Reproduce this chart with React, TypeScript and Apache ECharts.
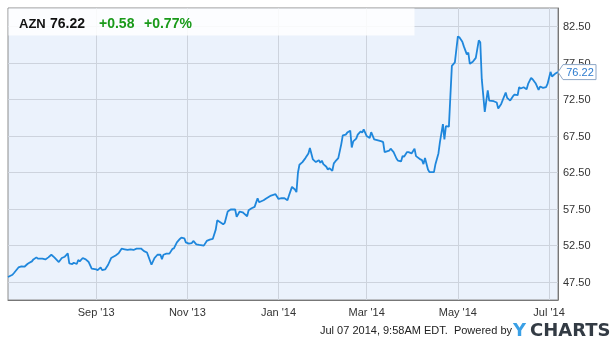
import React, { useEffect, useRef } from 'react';
import * as echarts from 'echarts';

const dates = [
  '2013-07-04','2013-07-07','2013-07-08','2013-07-11','2013-07-13','2013-07-15','2013-07-17','2013-07-18','2013-07-20','2013-07-21',
  '2013-07-23','2013-07-24','2013-07-27','2013-07-29','2013-07-31','2013-08-02','2013-08-04','2013-08-07','2013-08-09','2013-08-11',
  '2013-08-13','2013-08-14','2013-08-16','2013-08-17','2013-08-19','2013-08-20','2013-08-21','2013-08-23','2013-08-25','2013-08-27',
  '2013-08-29','2013-09-01','2013-09-02','2013-09-04','2013-09-05','2013-09-07','2013-09-09','2013-09-11','2013-09-14','2013-09-16',
  '2013-09-18','2013-09-20','2013-09-22','2013-09-24','2013-09-26','2013-09-28','2013-10-01','2013-10-03','2013-10-05','2013-10-08',
  '2013-10-10','2013-10-12','2013-10-14','2013-10-15','2013-10-16','2013-10-18','2013-10-20','2013-10-22','2013-10-23','2013-10-25',
  '2013-10-27','2013-10-28','2013-10-30','2013-10-31','2013-11-02','2013-11-04','2013-11-05','2013-11-07','2013-11-09','2013-11-12',
  '2013-11-14','2013-11-16','2013-11-18','2013-11-20','2013-11-21','2013-11-23','2013-11-25','2013-11-26','2013-11-28','2013-11-30',
  '2013-12-03','2013-12-04','2013-12-06','2013-12-08','2013-12-09','2013-12-11','2013-12-12','2013-12-14','2013-12-16','2013-12-18',
  '2013-12-19','2013-12-22','2013-12-24','2013-12-27','2013-12-30','2014-01-01','2014-01-03','2014-01-05','2014-01-07','2014-01-08',
  '2014-01-10','2014-01-12','2014-01-13','2014-01-14','2014-01-15','2014-01-17','2014-01-19','2014-01-21','2014-01-22','2014-01-24',
  '2014-01-26','2014-01-28','2014-01-29','2014-01-30','2014-01-31','2014-02-02','2014-02-03','2014-02-04','2014-02-06','2014-02-07',
  '2014-02-08','2014-02-10','2014-02-12','2014-02-13','2014-02-15','2014-02-16','2014-02-18','2014-02-19','2014-02-20','2014-02-22',
  '2014-02-23','2014-02-25','2014-02-26','2014-02-27','2014-03-01','2014-03-03','2014-03-04','2014-03-06','2014-03-08','2014-03-11',
  '2014-03-12','2014-03-13','2014-03-16','2014-03-17','2014-03-19','2014-03-21','2014-03-22','2014-03-24','2014-03-25','2014-03-26',
  '2014-03-28','2014-03-29','2014-03-31','2014-04-02','2014-04-03','2014-04-06','2014-04-07','2014-04-08','2014-04-09','2014-04-11',
  '2014-04-12','2014-04-15','2014-04-16','2014-04-18','2014-04-19','2014-04-21','2014-04-22','2014-04-23','2014-04-25','2014-04-26',
  '2014-04-27','2014-04-29','2014-05-01','2014-05-02','2014-05-04','2014-05-05','2014-05-07','2014-05-08','2014-05-09','2014-05-11',
  '2014-05-13','2014-05-15','2014-05-16','2014-05-17','2014-05-19','2014-05-21','2014-05-22','2014-05-25','2014-05-27','2014-05-28',
  '2014-05-30','2014-06-02','2014-06-03','2014-06-05','2014-06-07','2014-06-08','2014-06-10','2014-06-11','2014-06-12','2014-06-14',
  '2014-06-16','2014-06-17','2014-06-19','2014-06-20','2014-06-22','2014-06-24','2014-06-25','2014-06-27','2014-06-29','2014-06-30',
  '2014-07-02','2014-07-03','2014-07-05','2014-07-07'
];

const prices = [
  48.15,48.46,48.70,49.46,49.60,49.56,49.93,50.07,50.29,50.56,
  50.84,50.66,50.66,50.56,50.84,51.20,50.84,50.20,50.75,50.93,
  51.39,50.01,49.93,50.10,49.93,50.48,50.29,50.75,50.56,50.20,
  49.29,49.19,49.10,49.46,49.10,49.19,49.83,50.75,51.10,51.39,
  52.03,51.94,51.85,51.94,51.85,52.03,52.05,51.70,51.50,49.83,
  50.75,51.20,51.20,50.60,51.20,51.35,51.35,52.00,52.07,52.90,
  53.36,53.54,53.45,52.90,52.72,52.80,53.09,52.62,52.54,52.45,
  53.09,53.27,53.36,54.64,55.92,55.65,55.37,55.56,57.12,57.40,
  57.40,56.39,57.12,57.02,56.84,56.47,57.30,57.57,57.76,58.94,
  58.39,58.67,58.94,59.31,59.49,58.85,58.94,58.94,58.67,59.31,
  60.50,60.14,59.77,62.43,63.53,63.89,64.44,65.08,65.81,64.26,
  63.89,64.16,63.80,64.08,63.61,63.26,62.88,63.06,62.70,63.71,
  63.98,64.44,66.36,67.55,67.65,67.93,68.20,65.90,66.73,67.10,
  67.65,68.10,67.93,68.38,67.46,67.19,68.00,67.00,66.90,66.73,
  66.63,65.26,65.45,65.73,65.26,64.35,64.08,63.98,64.71,64.63,
  65.26,65.26,65.08,65.73,64.71,64.26,64.16,63.61,64.44,62.88,
  62.51,62.51,63.61,65.08,66.63,69.10,67.00,68.83,68.75,72.96,
  77.08,77.54,81.10,81.00,80.37,79.74,78.64,78.90,77.35,77.63,
  78.17,80.56,80.29,75.25,70.76,73.70,72.32,72.23,72.05,71.22,
  71.86,73.42,72.68,72.32,72.96,73.15,73.05,74.15,73.97,74.15,
  73.87,74.60,75.43,75.25,74.70,73.78,74.24,74.05,74.15,74.60,
  76.25,75.62,75.98,76.22
];

const xRange = ['2013-07-04', '2014-07-07'];
const xTickDates = ['2013-09-01', '2013-11-01', '2014-01-01', '2014-03-01', '2014-05-01', '2014-07-01'];
const yTickValues = [47.5, 52.5, 57.5, 62.5, 67.5, 72.5, 77.5, 82.5];
const yRange = [45, 85];
const ticker = 'AZN';
const lastPriceText = '76.22';
const changeText = '+0.58';
const changePctText = '+0.77%';
const footerText = 'Jul 07 2014, 9:58AM EDT.  Powered by';
const MONTHS = ['Jan', 'Feb', 'Mar', 'Apr', 'May', 'Jun', 'Jul', 'Aug', 'Sep', 'Oct', 'Nov', 'Dec'];

function ts(s: string): number {
  const [y, m, d] = s.split('-').map(Number);
  return new Date(y, m - 1, d).getTime();
}

const FONT = '"Liberation Sans", Arial, Helvetica, sans-serif';

export default function App() {
  const ref = useRef<HTMLDivElement>(null);
  useEffect(() => {
    if (!ref.current) return;
    const chart = echarts.init(ref.current, null, { renderer: 'svg' });
    const data = dates.map((d, i) => [ts(d), prices[i]]);
    const xTicks = xTickDates.map(ts);
    chart.setOption({
      animation: false,
      grid: {
        left: 8, top: 8, right: 58, bottom: 51,
        show: true, backgroundColor: '#ebf2fc', borderColor: '#8c8c8c', borderWidth: 1,
      },
      xAxis: {
        type: 'value',
        min: ts(xRange[0]),
        max: ts(xRange[1]),
        axisLine: { show: true, lineStyle: { color: '#777', width: 1 } },
        axisTick: { show: false },
        splitLine: { show: false },
        axisLabel: {
          customValues: xTicks,
          formatter: (v: number) => {
            const d = new Date(v);
            return MONTHS[d.getMonth()] + " '" + String(d.getFullYear()).slice(2);
          },
          color: '#333',
          fontSize: 11,
          fontFamily: FONT,
          margin: 6,
        },
      },
      yAxis: {
        type: 'value',
        position: 'right',
        min: yRange[0],
        max: yRange[1],
        interval: 2.5,
        axisLine: { show: true, lineStyle: { color: '#777', width: 1 } },
        axisTick: { show: false },
        splitLine: { show: true, lineStyle: { color: ['rgba(0,0,0,0)', '#cdd3dd'], width: 1 } },
        axisLabel: {
          formatter: (v: number) => (yTickValues.some((t) => Math.abs(t - v) < 1e-6) ? v.toFixed(2) : ''),
          color: '#333',
          fontSize: 11,
          fontFamily: FONT,
          margin: 5,
        },
      },
      series: [
        {
          type: 'line',
          data: [],
          z: 1,
          markLine: {
            silent: true,
            symbol: 'none',
            z: 1,
            label: { show: false },
            lineStyle: { color: '#cdd3dd', type: 'solid', width: 1 },
            data: xTicks.map((t) => ({ xAxis: t })),
          },
        },
        {
          type: 'line',
          data,
          showSymbol: false,
          symbol: 'none',
          z: 3,
          lineStyle: { color: '#1f87dc', width: 1.8 },
        },
      ],
    });

    const last = data[data.length - 1];
    const [px, py] = chart.convertToPixel({ gridIndex: 0 }, last) as number[];
    const FY = 330;
    chart.setOption({
      graphic: [
        {
          type: 'rect', z: 100,
          shape: { x: 8.5, y: 8.5, width: 406, height: 27 },
          style: { fill: 'rgba(255,255,255,0.85)' },
        },
        { type: 'text', z: 101, x: 19, y: 23, style: { text: ticker, fontSize: 13, fontWeight: 'bold', fontFamily: FONT, fill: '#111', verticalAlign: 'middle' } },
        { type: 'text', z: 101, x: 50, y: 23, style: { text: lastPriceText, fontSize: 14, fontWeight: 'bold', fontFamily: FONT, fill: '#111', verticalAlign: 'middle' } },
        { type: 'text', z: 101, x: 99, y: 23, style: { text: changeText, fontSize: 14, fontWeight: 'bold', fontFamily: FONT, fill: '#1a9a1a', verticalAlign: 'middle' } },
        { type: 'text', z: 101, x: 144, y: 23, style: { text: changePctText, fontSize: 14, fontWeight: 'bold', fontFamily: FONT, fill: '#1a9a1a', verticalAlign: 'middle' } },
        {
          type: 'polygon', z: 102,
          shape: { points: [[px, py], [px + 5, py - 7.5], [px + 38, py - 7.5], [px + 38, py + 7.5], [px + 5, py + 7.5]] },
          style: { fill: '#ffffff', stroke: '#8da6c6', lineWidth: 1 },
        },
        { type: 'text', z: 103, x: px + 22, y: py, style: { text: prices[prices.length - 1].toFixed(2), fontSize: 11, fontFamily: FONT, fill: '#2b7bcf', align: 'center', verticalAlign: 'middle' } },
        { type: 'text', z: 101, x: 320, y: FY, style: { text: footerText, fontSize: 11, fontFamily: FONT, fill: '#222', verticalAlign: 'middle' } },
        { type: 'text', z: 101, x: 513, y: FY - 1, style: { text: 'Y', fontSize: 18, fontWeight: 'bold', fontFamily: '"DejaVu Sans", sans-serif', fill: '#3aa0e6', verticalAlign: 'middle' } },
        { type: 'text', z: 101, x: 530, y: FY - 1, style: { text: 'CHARTS', fontSize: 18, fontWeight: 'bold', fontFamily: '"DejaVu Sans", sans-serif', fill: '#333b44', verticalAlign: 'middle' } },
      ],
    });

    return () => chart.dispose();
  }, []);

  return <div ref={ref} style={{ position: 'fixed', left: 0, top: 0, width: 616, height: 351 }} />;
}
